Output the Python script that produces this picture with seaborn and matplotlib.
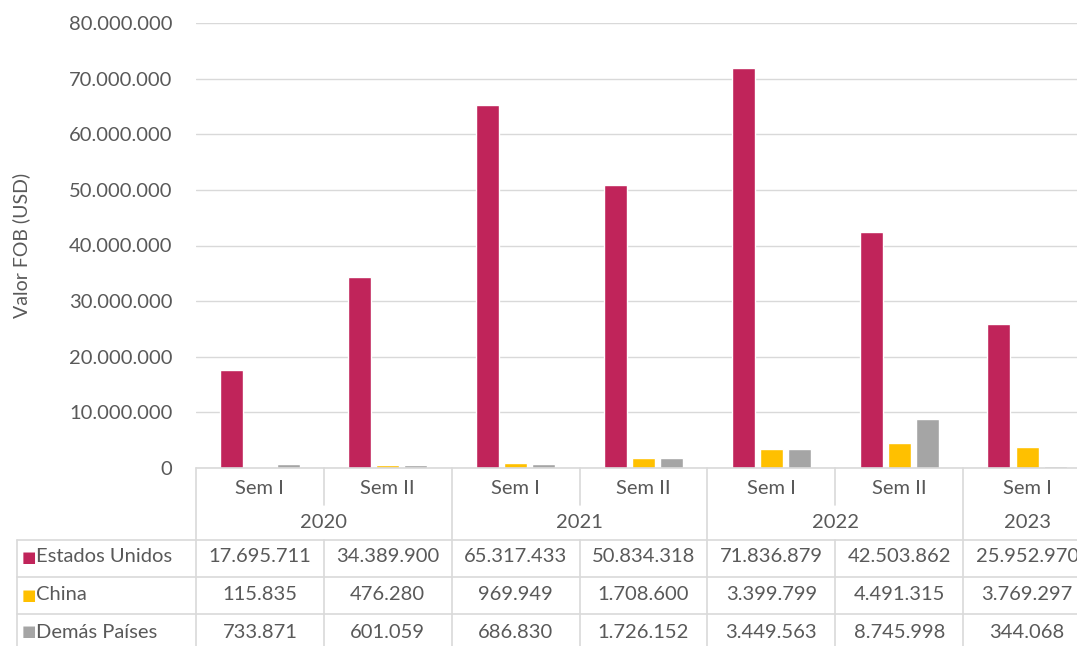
import matplotlib
matplotlib.use('Agg')
import matplotlib.pyplot as plt
import matplotlib.ticker as mticker
from matplotlib.lines import Line2D
import seaborn as sns
import pandas as pd

# Datos
semestres = ['Sem I', 'Sem II', 'Sem I', 'Sem II', 'Sem I', 'Sem II', 'Sem I']
anios = ['2020', '2020', '2021', '2021', '2022', '2022', '2023']
estados_unidos = [17695711, 34389900, 65317433, 50834318, 71836879, 42503862, 25952970]
china = [115835, 476280, 969949, 1708600, 3399799, 4491315, 3769297]
demas_paises = [733871, 601059, 686830, 1726152, 3449563, 8745998, 344068]

series = {
    'Estados Unidos': estados_unidos,
    'China': china,
    'Demás Países': demas_paises,
}
colores = ['#C0245A', '#FFC000', '#A5A5A5']
gris_texto = '#595959'
gris_linea = '#D9D9D9'

periodos = [f'{a} {s}' for a, s in zip(anios, semestres)]
filas = []
for pais, valores in series.items():
    for p, v in zip(periodos, valores):
        filas.append({'periodo': p, 'pais': pais, 'valor': v})
df = pd.DataFrame(filas)

sns.set_theme(style='white')
plt.rcParams['font.family'] = ['Lato', 'DejaVu Sans']

fig = plt.figure(figsize=(10.77, 6.46), dpi=100)
ax = fig.add_axes([196 / 1077, 1 - 468 / 646, 895 / 1077, 445 / 646])

sns.barplot(data=df, x='periodo', y='valor', hue='pais', palette=colores,
            order=periodos, width=0.66, gap=0.18, saturation=1,
            ax=ax, legend=False)

ax.set_ylim(0, 80_000_000)
ax.set_xlim(-0.5, len(periodos) - 0.5)
ax.yaxis.set_major_locator(mticker.MultipleLocator(10_000_000))
ax.yaxis.set_major_formatter(
    mticker.FuncFormatter(lambda v, _: f'{int(v):,}'.replace(',', '.')))
ax.tick_params(axis='y', length=0, pad=17, labelsize=14.5, labelcolor=gris_texto)
ax.set_xticks([])
ax.set_xlabel('')
ax.set_ylabel('Valor FOB (USD)', fontsize=14, color=gris_texto, labelpad=28)
ax.grid(axis='y', color=gris_linea, linewidth=1)
ax.set_axisbelow(True)
for s in ax.spines.values():
    s.set_visible(False)

# Tabla de datos bajo el gráfico
tr = ax.get_xaxis_transform()


def py(p):
    # pixel vertical de la figura -> coordenada de ejes
    return (468 - p) / 445


def px(p):
    # pixel horizontal de la figura -> coordenada de datos
    return -0.5 + (p - 196) / 128


def linea(x0, x1, y0, y1):
    ax.add_line(Line2D([x0, x1], [y0, y1], transform=tr, color=gris_linea,
                       linewidth=1.2, clip_on=False))


n = len(periodos)
izq = px(17)
fondo = py(660)
# horizontales
linea(-0.5, n - 0.5, 0, 0)
for p in [540, 577, 614]:
    linea(izq, n - 0.5, py(p), py(p))
# verticales
linea(-0.5, -0.5, 0, fondo)
linea(izq, izq, py(540), fondo)
for i in range(n - 1):
    x = i + 0.5
    if anios[i] != anios[i + 1]:
        linea(x, x, 0, fondo)
    else:
        linea(x, x, 0, py(505))
        linea(x, x, py(540), fondo)

kw = dict(transform=tr, ha='center', va='center', fontsize=14.5,
          color=gris_texto, clip_on=False)
for i, s in enumerate(semestres):
    ax.text(i, py(488), s, **kw)
for a in sorted(set(anios)):
    idx = [i for i, x in enumerate(anios) if x == a]
    ax.text(sum(idx) / len(idx), py(522), a, **kw)

for r, ((pais, valores), c) in enumerate(zip(series.items(), colores)):
    yy = py([557, 595, 632][r])
    ax.text(px(21), yy, '■', transform=tr, ha='left', va='center',
            fontsize=11, color=c, family=['DejaVu Sans'], clip_on=False)
    ax.text(px(36), yy, pais, transform=tr, ha='left', va='center',
            fontsize=14.5, color=gris_texto, clip_on=False)
    for i, v in enumerate(valores):
        ax.text(i, yy, f'{v:,}'.replace(',', '.'), **kw)

fig.savefig('out.png', dpi=100)
